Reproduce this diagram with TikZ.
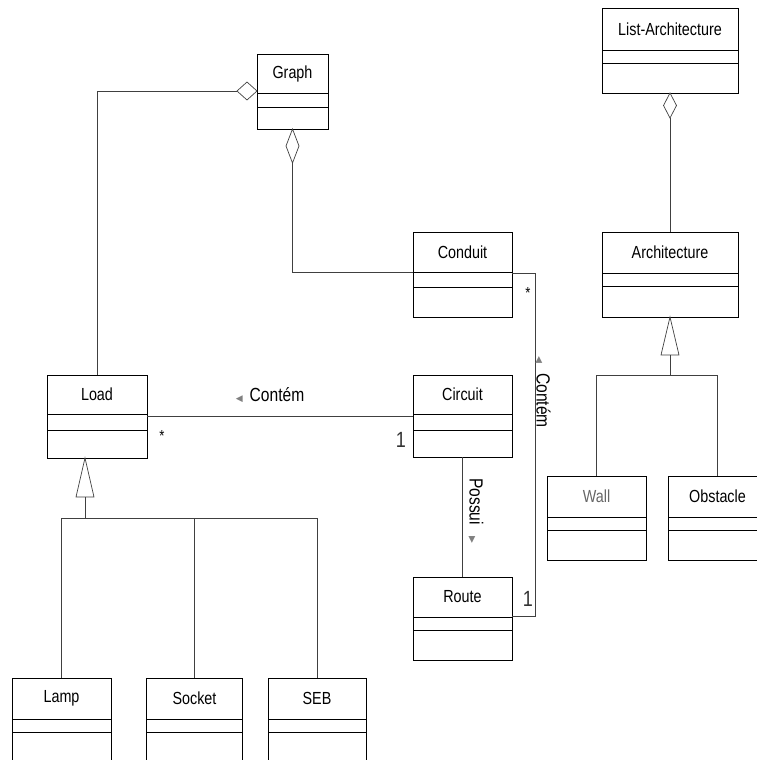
\documentclass[tikz,border=0pt]{standalone}
\usepackage{fontspec}
\setmainfont{Liberation Sans}[FakeStretch=0.82]
\newfontfamily\symf{DejaVu Sans}
\usetikzlibrary{calc}
\tikzset{
  classbox/.style={draw=black, line width=0.9pt, inner sep=0pt, outer sep=0pt, anchor=north west},
  sepline/.style={draw=black, line width=0.9pt},
  conn/.style={draw=black!75, line width=0.7pt},
  cname/.style={font=\fontsize{17.5}{20}\selectfont, inner sep=0pt},
  lbl/.style={font=\fontsize{19}{21}\selectfont, inner sep=0pt},
  starlbl/.style={font=\fontsize{16}{16}\selectfont, inner sep=0pt},
  onelbl/.style={font=\fontsize{22}{24}\selectfont, inner sep=0pt, text=black!80},
}
\newcommand\tri[1]{{\symf\fontsize{9}{9}\selectfont\color{black!50}#1}}
% #1 name, #2 left x, #3 top y, #4 width, #5 name height, #6 attr height, #7 total height, #8 text
\newcommand\umlclass[8]{%
  \node[classbox, minimum width=#4pt, minimum height=#7pt] (#1) at (#2,#3) {};
  \node[cname] (#1-name) at ($(#1.north west)+({#4/2},{#5/2})$) {#8};
  \draw[sepline] ($(#1.north west)+(0,#5)$) -- ++(#4,0);
  \draw[sepline] ($(#1.north west)+(0,{#5+#6})$) -- ++(#4,0);
}
\begin{document}
\begin{tikzpicture}[x=1pt,y=-1pt]
\path[use as bounding box] (0,0) rectangle (757,760);
\clip (0,0) rectangle (757,760);

% classes
\umlclass{graph}{257}{54}{71}{39}{14}{75}{Graph}
\umlclass{listarch}{602}{8}{136}{42}{13}{85}{List-Architecture}
\umlclass{conduit}{413}{232}{99}{40}{15}{85}{Conduit}
\umlclass{arch}{602}{232}{136}{41}{13}{85}{Architecture}
\umlclass{load}{47}{375}{100}{39}{16}{83}{Load}
\umlclass{circuit}{413}{375}{99}{39}{16}{82}{Circuit}
\umlclass{wall}{547}{476}{99}{41}{13}{84}{\textcolor{black!60}{Wall}}
\umlclass{obstacle}{668}{476}{99}{41}{13}{84}{Obstacle}
\umlclass{route}{413}{577}{99}{40}{13}{83}{Route}
\umlclass{lamp}{12}{678}{99}{41}{13}{90}{Lamp}
\umlclass{socket}{146.5}{678}{96}{41}{13}{90}{Socket}
\umlclass{seb}{268}{678}{98}{41}{13}{90}{SEB}

% Graph -- Load aggregation
\coordinate (d1e) at ($(graph.north west)+(0,37)$);
\draw[conn, fill=white] (d1e) -- ++(-10,-9) -- ++(-10,9) coordinate (d1w) -- ++(10,9) -- cycle;
\draw[conn] (load.north) |- (d1w);

% Graph -- Conduit aggregation
\draw[conn, fill=white] (graph.south) -- ++(6.5,17) -- ++(-6.5,17) coordinate (d2s) -- ++(-6.5,-17) -- cycle;
\draw[conn] (d2s) |- ($(conduit.north west)+(0,40)$);

% List-Architecture -- Architecture aggregation
\draw[conn, fill=white] (listarch.south) -- ++(6.5,12.5) -- ++(-6.5,12.5) coordinate (d3s) -- ++(-6.5,-12.5) -- cycle;
\draw[conn] (d3s) -- (arch.north);

% Architecture generalization
\draw[conn, fill=white] (arch.south) -- ++(9,38) -- ++(-18,0) -- cycle;
\draw[conn] ($(arch.south)+(0,38)$) -- ++(0,20) coordinate (j2);
\draw[conn] (wall.north) -- (wall.north |- j2) -- (obstacle.north |- j2) -- (obstacle.north);

% Load generalization
\coordinate (t1a) at ($(load.south west)+(38,0)$);
\draw[conn, fill=white] (t1a) -- ++(9,39) -- ++(-18,0) -- cycle;
\draw[conn] ($(t1a)+(0,39)$) -- ++(0,21) coordinate (j1);
\draw[conn] (lamp.north) -- (lamp.north |- j1) -- (seb.north |- j1) -- (seb.north);
\draw[conn] (socket.north) -- (socket.north |- j1);

% Load -- Circuit
\draw[conn] ($(load.north east)+(0,41)$) -- ($(circuit.north west)+(0,41)$);
\node[lbl] (lc) at (270,395) {\tri{◀}\hspace{7pt}Contém};
\node[starlbl] (lcs) at (162,436) {*};
\node[onelbl] (lc1) at (401,440) {1};

% Circuit -- Route
\draw[conn] (circuit.south) -- (route.north);
\node[lbl, rotate=-90] (cr) at (476,511) {Possui\hspace{12pt}\tri{▶}};

% Conduit -- Route
\draw[conn] ($(conduit.north east)+(0,41)$) -- ++(23,0) coordinate (c2) |- ($(route.north east)+(0,39)$);
\node[lbl, rotate=-90] (cro) at (543,392) {\tri{◀}\hspace{10pt}Contém};
\node[starlbl] (cros) at (528,293) {*};
\node[onelbl] (cro1) at (528,599) {1};
\end{tikzpicture}
\end{document}
